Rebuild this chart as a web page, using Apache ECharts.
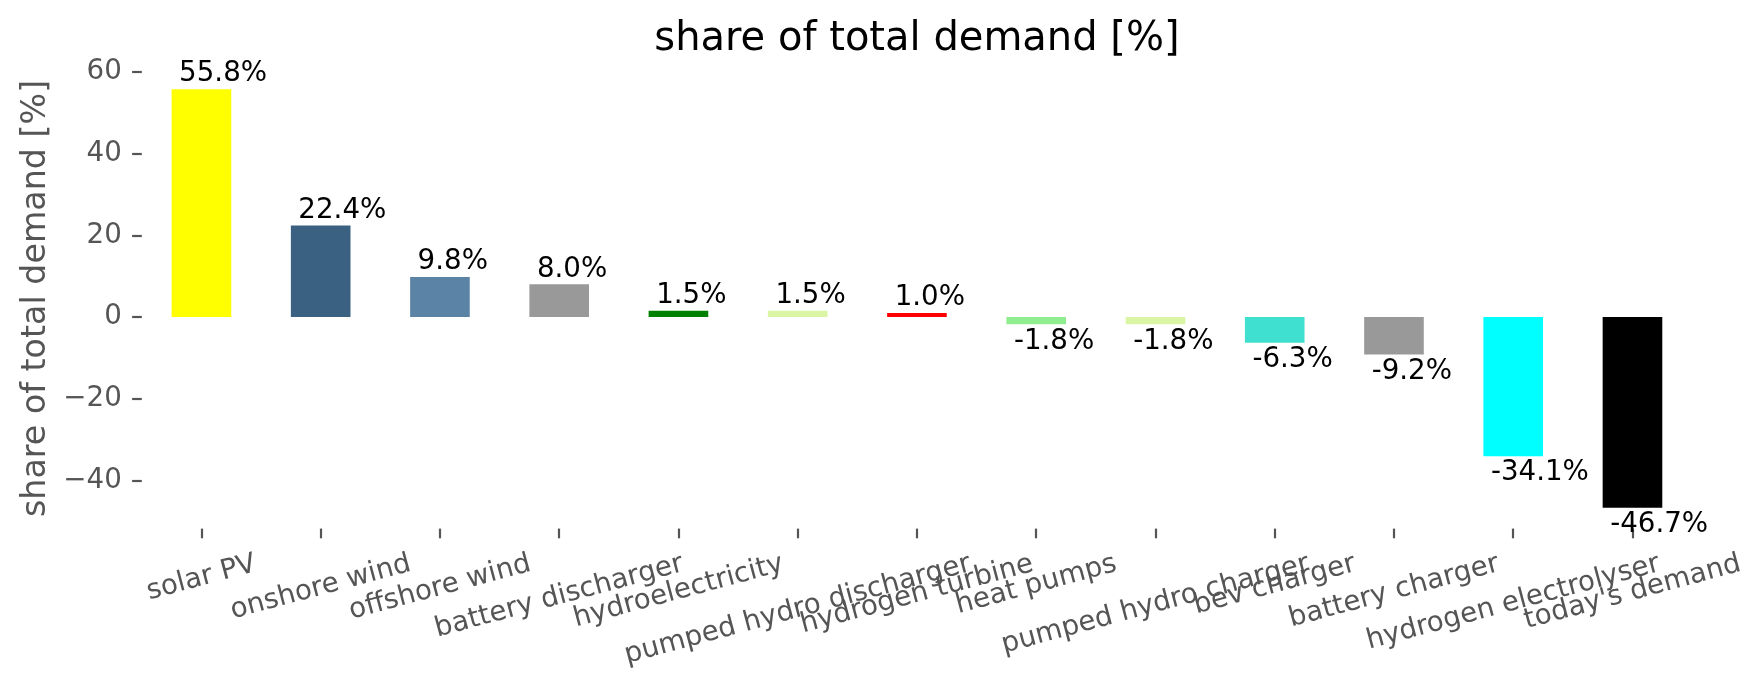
<!DOCTYPE html>
<html><head><meta charset="utf-8">
<script src="https://cdn.jsdelivr.net/npm/echarts@6/dist/echarts.min.js"></script>
<style>html,body{margin:0;padding:0;background:#fff}#c{width:1764px;height:689px}</style>
</head><body><div id="c"></div>
<script>
const categories = ['solar PV','onshore wind','offshore wind','battery discharger','hydroelectricity','pumped hydro discharger','hydrogen turbine','heat pumps','pumped hydro charger','bev charger','battery charger','hydrogen electrolyser',"today's demand"];
const values = [55.8, 22.4, 9.8, 8.0, 1.5, 1.5, 1.0, -1.8, -1.8, -6.3, -9.2, -34.1, -46.7];
const barColors = ['#ffff00','#3b6182','#5b83a5','#999999','#008000','#daf5a4','#ff0000','#90ee90','#daf5a4','#40e0d0','#999999','#00ffff','#000000'];
const yTicks = [-40, -20, 0, 20, 40, 60];
const titleText = 'share of total demand [%]';
const yName = 'share of total demand [%]';

const FONT = 'DejaVu Sans';
const TICK = 27.7;
const mctx = document.createElement('canvas').getContext('2d');
function textWidth(t, size) { mctx.font = size + 'px "' + FONT + '"'; return mctx.measureText(t).width; }

const grid = { left: 141.8, right: 71.9, top: 68.2, bottom: 160.4 };
const gridBottomY = 689 - grid.bottom;
const th = 15 * Math.PI / 180;
const labelMargin = 11.4;            // anchor below axis
const labelTopY = 550;               // top of rotated label box (matplotlib style)
const H = TICK;

const xData = categories.map(c => {
  const w = textWidth(c, TICK);
  const centerY = labelTopY + (w * Math.sin(th) + H * Math.cos(th)) / 2;
  const s = centerY - (gridBottomY + labelMargin);
  const pt = Math.max(0, s * Math.cos(th) - H / 2);
  const pr = 2 * s * Math.sin(th);
  return { value: c, textStyle: { align: 'center', verticalAlign: 'top', padding: [pt, pr, 0, 0] } };
});

const lblBase = { show: true, color: '#000', fontSize: TICK, fontFamily: FONT, align: 'left',
  formatter: p => p.value.toFixed(1) + '%' };
const barData = values.map((v, i) => ({
  value: v,
  itemStyle: { color: barColors[i] },
  label: v >= 0
    ? Object.assign({}, lblBase, { position: [7.5, 0], verticalAlign: 'bottom', offset: [0, -1] })
    : Object.assign({}, lblBase, { position: [7.5, '100%'], verticalAlign: 'top', offset: [0, 3] })
}));

const titleSize = 40;
const titleW = textWidth(titleText, titleSize);
const axesCenter = grid.left + (1764 - grid.left - grid.right) / 2;

const chart = echarts.init(document.getElementById('c'), null, { renderer: 'canvas' });
chart.setOption({
  animation: false,
  backgroundColor: '#fff',
  title: { text: titleText, left: axesCenter - titleW / 2, top: 20, padding: 0,
    textStyle: { fontSize: titleSize, fontWeight: 'normal', color: '#000', fontFamily: FONT } },
  grid: grid,
  xAxis: {
    type: 'category', data: xData, boundaryGap: true,
    axisLine: { show: false, onZero: false },
    axisTick: { show: true, alignWithLabel: true, length: 9.7, lineStyle: { color: '#555', width: 2.2 } },
    axisLabel: { interval: 0, rotate: 15, margin: labelMargin,
      fontSize: TICK, fontFamily: FONT, color: '#555' },
    splitLine: { show: false }
  },
  yAxis: {
    type: 'value', min: -51.825, max: 60.925,
    name: yName, nameLocation: 'middle', nameRotate: 90, nameGap: 104,
    nameTextStyle: { fontSize: 33.3, fontFamily: FONT, color: '#555', align: 'center', verticalAlign: 'middle' },
    axisLine: { show: false },
    axisTick: { show: true, length: 9.7, lineStyle: { color: '#555', width: 2.2 }, customValues: yTicks },
    axisLabel: { customValues: yTicks, margin: 20, fontSize: TICK, fontFamily: FONT, color: '#555',
      formatter: v => (v < 0 ? '\u2212' + Math.abs(v) : String(v)) },
    splitLine: { show: false }
  },
  series: [{ type: 'bar', data: barData, barWidth: '50%' }]
});
</script></body></html>
